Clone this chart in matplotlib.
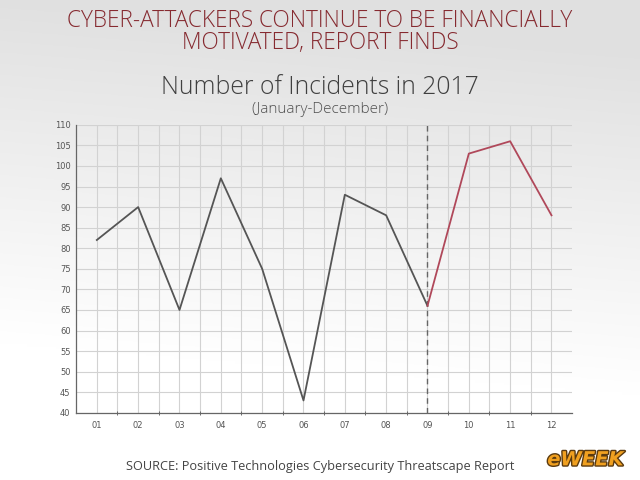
import numpy as np
import matplotlib.pyplot as plt
from matplotlib.ticker import MultipleLocator
import matplotlib.patheffects as pe

months = ["01", "02", "03", "04", "05", "06", "07", "08", "09", "10", "11", "12"]
incidents = [82, 90, 65, 97, 75, 43, 93, 88, 66, 103, 106, 88]
split_index = 8  # month 09 marks the change

fig = plt.figure(figsize=(6.4, 4.8), dpi=100)

# background gradient (grey at top, white towards the bottom)
bg = fig.add_axes([0, 0, 1, 1], zorder=-10)
yy, xx = np.mgrid[0:1:200j, 0:1:200j]
grad = 0.88 + 0.12 * np.clip(1.4 * yy + 0.15 * (1 - xx) - 0.15, 0, 1)
bg.imshow(np.dstack([grad, grad, grad]), extent=[0, 1, 0, 1], origin='upper', aspect='auto')
bg.axis('off')

ax = fig.add_axes([0.119, 0.140, 0.775, 0.600])
ax.set_facecolor('none')
x = np.arange(1, len(months) + 1)
ax.plot(x[:split_index + 1], incidents[:split_index + 1], color='#555555', lw=1.3, zorder=3)
ax.plot(x[split_index:], incidents[split_index:], color='#b0485a', lw=1.3, zorder=3)
ax.axvline(x[split_index], color='#666666', lw=1.0, ls=(0, (4, 3)), zorder=2)

ax.set_xlim(0.5, 12.5)
ax.set_ylim(40, 110)
ax.yaxis.set_major_locator(MultipleLocator(5))
ax.set_xticks(x)
ax.set_xticklabels(months)
ax.set_xticks(np.arange(1.5, 12.5, 1), minor=True)
ax.grid(True, which='both', axis='x', color='#d2d2d2', lw=0.8)
ax.grid(True, which='major', axis='y', color='#d2d2d2', lw=0.8)
ax.tick_params(axis='both', which='major', labelsize=6, labelcolor='#555555', length=0, pad=6)
ax.tick_params(axis='x', which='minor', length=3, color='#555555', direction='inout')
ax.tick_params(axis='y', length=0, pad=4)
for s in ['top', 'right']:
    ax.spines[s].set_visible(False)
for s in ['left', 'bottom']:
    ax.spines[s].set_color('#666666')
    ax.spines[s].set_linewidth(0.9)

font = 'Open Sans'
fig.text(0.5, 0.957, "CYBER-ATTACKERS CONTINUE TO BE FINANCIALLY", ha='center', va='center',
         fontsize=16.3, color='#862a30', family=font, fontweight='light')
fig.text(0.5, 0.911, "MOTIVATED, REPORT FINDS", ha='center', va='center',
         fontsize=16.3, color='#862a30', family=font, fontweight='light')
fig.text(0.5, 0.818, "Number of Incidents in 2017", ha='center', va='center',
         fontsize=17.8, color='#404040', family=font, fontweight='light')
fig.text(0.5, 0.771, "(January-December)", ha='center', va='center',
         fontsize=11, color='#505050', family=font, fontweight='light')
fig.text(0.5, 0.029, "SOURCE: Positive Technologies Cybersecurity Threatscape Report",
         ha='center', va='center', fontsize=9.2, color='#444444', family=font)
fig.text(0.915, 0.042, "eWEEK", ha='center', va='center', fontsize=14, fontweight='bold',
         style='italic', color='#f0a020', family='DejaVu Sans',
         path_effects=[pe.withStroke(linewidth=2, foreground='#5a3a10')])

fig.savefig('out.png', dpi=100)
